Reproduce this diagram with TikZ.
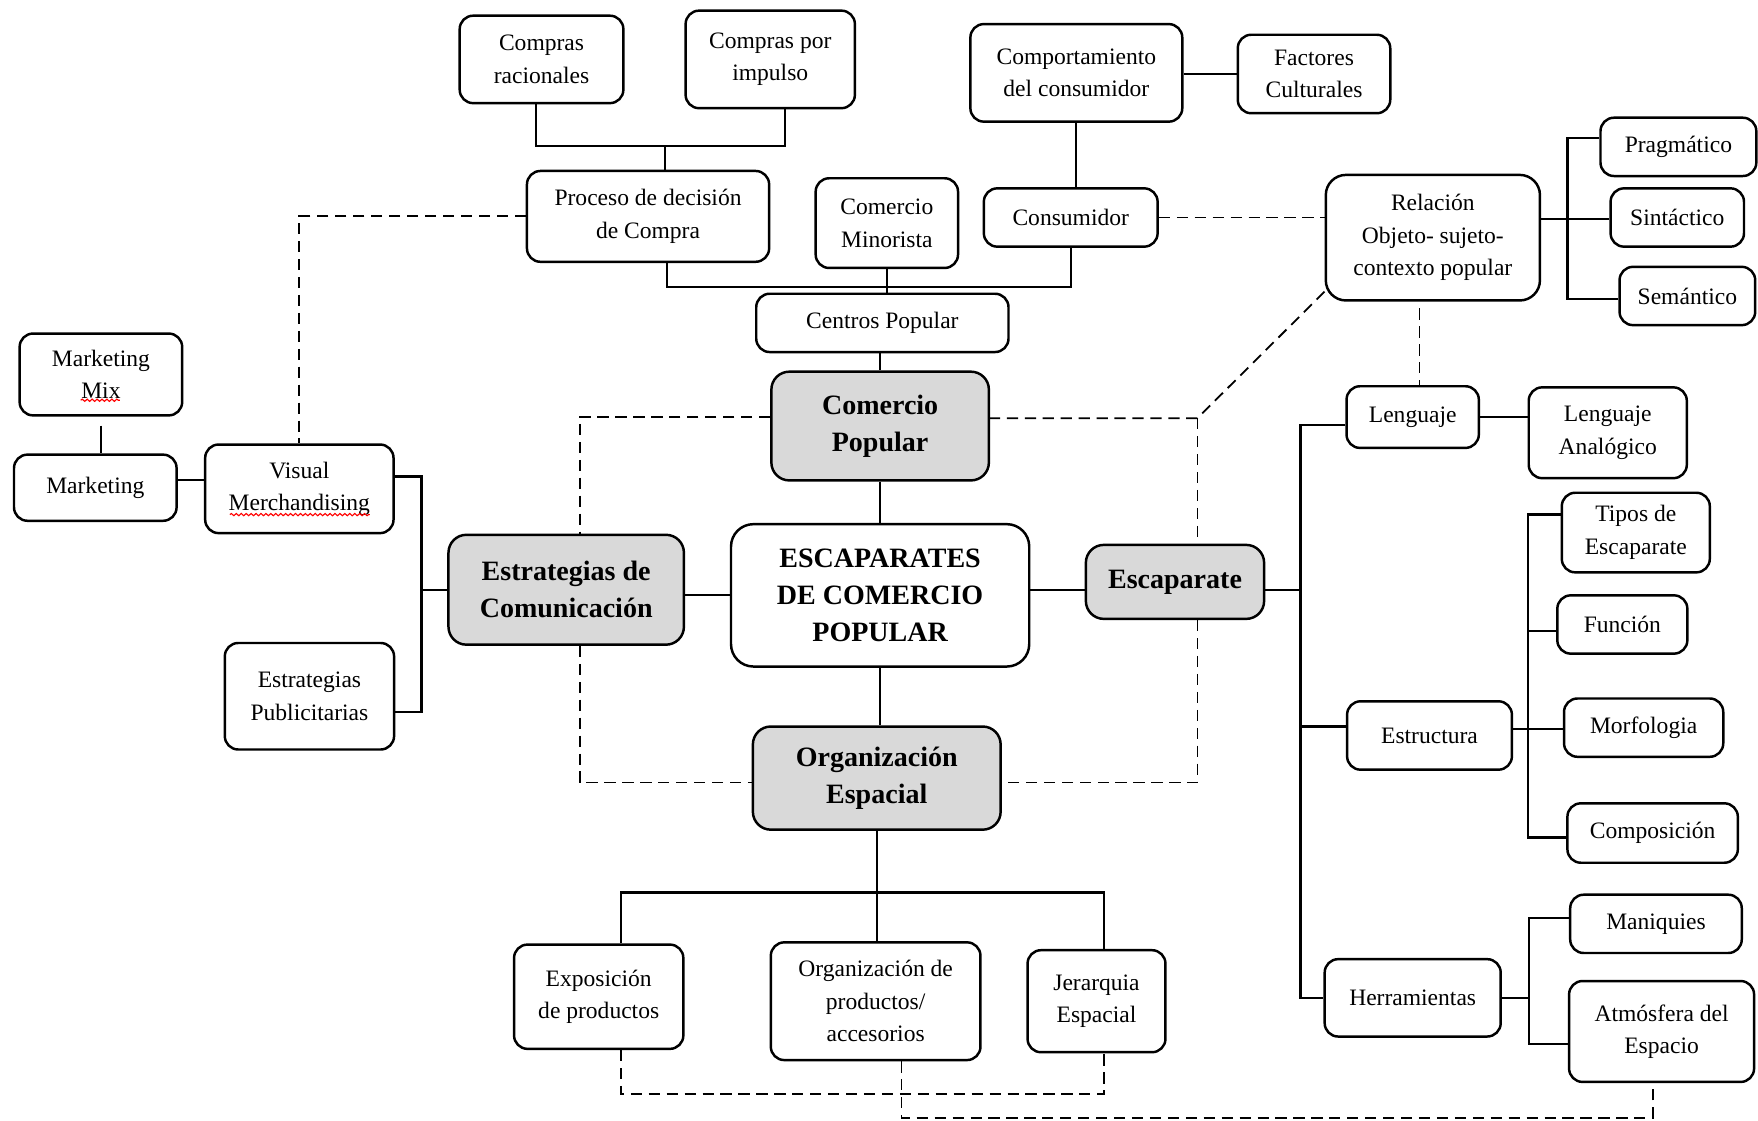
\documentclass[tikz,border=0pt]{standalone}
\usepackage{fontspec}
\setmainfont{Liberation Serif}
\usetikzlibrary{calc,decorations.pathmorphing}
\definecolor{boxgray}{HTML}{D9D9D9}
\begin{document}
\begin{tikzpicture}[x=0.5pt,y=-0.5pt,
 sz/.style 2 args={minimum width=#1*0.5pt, minimum height=#2*0.5pt},
 bx/.style={draw, line width=1.1pt, rounded corners=6pt, align=center, inner sep=0pt, fill=white, font=\fontsize{10.5}{14.5}\selectfont},
 gbx/.style={bx, fill=boxgray, rounded corners=8pt, font=\fontsize{12.5}{16.5}\selectfont\bfseries},
 ln/.style={line width=1pt},
 dsh/.style={line width=0.8pt, dash pattern=on 5pt off 3pt},
 sq/.style={red, line width=0.5pt, decorate, decoration={snake, amplitude=0.5pt, segment length=2.2pt}}]
\useasboundingbox[fill=white] (0,0) rectangle (1568,999);

% nodes
\node[bx, sz={146}{78}] (cr) at (483,53) {Compras\\racionales};
\node[bx, sz={151}{87}] (cpi) at (687,53) {Compras por\\impulso};
\node[bx, sz={216}{81}] (pdc) at (578,193) {Proceso de decisión\\de Compra};
\node[bx, sz={127}{80}] (cmi) at (791,199) {Comercio\\Minorista};
\node[bx, sz={189}{87}] (com) at (960,65) {Comportamiento\\del consumidor};
\node[bx, sz={136}{70}] (fc) at (1172,66) {Factores\\Culturales};
\node[bx, sz={155}{52}] (cons) at (955,194) {Consumidor};
\node[bx, sz={191}{112}, rounded corners=9pt] (rel) at (1278,212) {Relación\\Objeto- sujeto-\\contexto popular};
\node[bx, sz={139}{52}] (prag) at (1497,131) {Pragmático};
\node[bx, sz={119}{52}] (sint) at (1496,194) {Sintáctico};
\node[bx, sz={121}{52}] (sem) at (1505,264) {Semántico};
\node[bx, sz={225}{52}] (cp) at (787,288) {Centros Popular};
\node[gbx, sz={194}{97}] (cop) at (785,380) {Comercio\\Popular};
\node[bx, sz={145}{73}] (mm) at (90,334) {Marketing\\Mix};
\node[bx, sz={145}{59}] (mk) at (85,435) {Marketing};
\node[bx, sz={168}{79}] (vm) at (267,436) {Visual\\Merchandising};
\node[gbx, sz={210}{98}] (ec) at (505,526) {Estrategias de\\Comunicación};
\node[gbx, fill=white, sz={266}{127}, rounded corners=10pt] (esc) at (785,531) {ESCAPARATES\\DE COMERCIO\\POPULAR};
\node[gbx, sz={159}{66}] (es) at (1048,519) {Escaparate};
\node[bx, sz={151}{95}] (ep) at (276,621) {Estrategias\\Publicitarias};
\node[gbx, sz={221}{92}] (oe) at (782,694) {Organización\\Espacial};
\node[bx, sz={118}{55}] (len) at (1260,372) {Lenguaje};
\node[bx, sz={141}{81}] (la) at (1434,386) {Lenguaje\\Analógico};
\node[bx, sz={132}{71}] (te) at (1459,475) {Tipos de\\Escaparate};
\node[bx, sz={116}{52}] (fn) at (1447,557) {Función};
\node[bx, sz={147}{61}] (est) at (1275,656) {Estructura};
\node[bx, sz={142}{52}] (mor) at (1466,649) {Morfologia};
\node[bx, sz={152}{53}] (comp) at (1474,743) {Composición};
\node[bx, sz={153}{52}] (man) at (1477,824) {Maniquies};
\node[bx, sz={157}{69}] (her) at (1260,890) {Herramientas};
\node[bx, sz={165}{90}] (atm) at (1482,920) {Atmósfera del\\Espacio};
\node[bx, sz={151}{93}] (ex) at (534,889) {Exposición\\de productos};
\node[bx, sz={187}{105}] (op) at (781,893) {Organización de\\productos/\\accesorios};
\node[bx, sz={123}{91}] (jer) at (978,893) {Jerarquia\\Espacial};

% spell-check squiggles
\draw[sq] (72,357) -- (107,357);
\draw[sq] (205,459) -- (330,459);

% bus coordinates
\coordinate (b1) at (593,130);
\coordinate (b2) at (791,256);
\coordinate (busR) at (1398,195);
\coordinate (busE) at (1160,526);
\coordinate (busS) at (1363,650);
\coordinate (busH) at (1364,890);
\coordinate (busV) at (376,526);
\coordinate (busO) at (782,796);
\coordinate (e1) at ([yshift=-3.5pt]es.west);
\coordinate (e2) at ([yshift=-3.5pt]es.east);
\coordinate (e3) at ([yshift=4pt]est.west);
\coordinate (fnl) at ([yshift=-3pt]fn.west);
\coordinate (mkl) at ([yshift=3.5pt]mk.east);
\coordinate (rd) at ([xshift=-6pt]rel.south);
\coordinate (dj) at (1068,373);
\coordinate (dk) at (1068,698);
\coordinate (dl) at (517,372);
\coordinate (dm) at (517,698);
\coordinate (dn) at (985,976);
\coordinate (dp) at (1474,997);

% solid connectors
\draw[ln] ([xshift=-2.5pt]cr.south) |- (b1) -| ([xshift=6.5pt]cpi.south);
\draw[ln] ([xshift=7.5pt]pdc.north) -- (b1);
\draw[ln] ([xshift=8.5pt]pdc.south) |- (b2) -| (cons.south);
\draw[ln] (cmi.south) -- (b2) -- (b2 |- cp.north);
\draw[ln] (com.south) -- (com.south |- cons.north);
\draw[ln] (fc.west -| com.east) -- (fc.west);
\draw[ln] (cop.north |- cp.south) -- (cop.north);
\draw[ln] (cop.south) -- (cop.south |- esc.north);
\draw[ln] (esc.south) -- (esc.south |- oe.north);
\draw[ln] (esc.west) -- (esc.west -| ec.east);
\draw[ln] (e1 -| esc.east) -- (e1);
\draw[ln] (e2) -- (busE);
\draw[ln] ([yshift=-3.5pt]len.west) -| (busE) |- (her.west);
\draw[ln] (e3) -- (e3 -| busE);
\draw[ln] (len.east) -- (len.east -| la.west);
\draw[ln] (busS -| est.east) -- (busS) -- (busS -| mor.west);
\draw[ln] ([yshift=8pt]te.west) -| (busS) |- ([yshift=-2pt]comp.west);
\draw[ln] (fnl) -- (fnl -| busS);
\draw[ln] (her.east) -- (busH);
\draw[ln] ([yshift=2.5pt]man.west) -| (busH) |- ([yshift=-5.5pt]atm.west);
\draw[ln] ([yshift=8.5pt]rel.east) -- (busR) -- (busR -| sint.west);
\draw[ln] ([yshift=4pt]prag.west) -| (busR) |- ([yshift=-1.5pt]sem.west);
\draw[ln] ([yshift=-4pt]mm.south) -- (mm.south |- mk.north);
\draw[ln] (mkl) -- (mkl -| vm.west);
\draw[ln] ([yshift=5.5pt]vm.east) -| (busV) |- ([yshift=-7pt]ep.east);
\draw[ln] (busV) -- (ec.west);
\draw[ln] (oe.south) -- (busO) -- (busO |- op.north);
\draw[ln] ([xshift=10pt]ex.north) |- (busO) -| ([xshift=3.5pt]jer.north);

% dashed connectors
\draw[dsh] (pdc.west) -| (vm.north);
\draw[dsh] (cons.east) -- (cons.east -| rel.west);
\draw[dsh] ([yshift=-3pt]rd) -- (rd |- len.north);
\draw[dsh] ([yshift=4.5pt]rel.south west) -- (dj) -- (dj -| cop.east);
\draw[dsh] (dj) -- (dj |- es.north);
\draw[dsh] (dk |- es.south) -- (dk) -- (dk -| oe.east);
\draw[dsh] (dl -| cop.west) -- (dl) -- (dl |- ec.north);
\draw[dsh] (dm |- ec.south) -- (dm) -- (dm -| oe.west);
\draw[dsh] ([xshift=10pt]ex.south) |- (dn) -- ([xshift=3.5pt]jer.south);
\draw[dsh] ([xshift=11.5pt]op.south) |- (dp) -- ([xshift=-4pt]atm.south);
\end{tikzpicture}
\end{document}
